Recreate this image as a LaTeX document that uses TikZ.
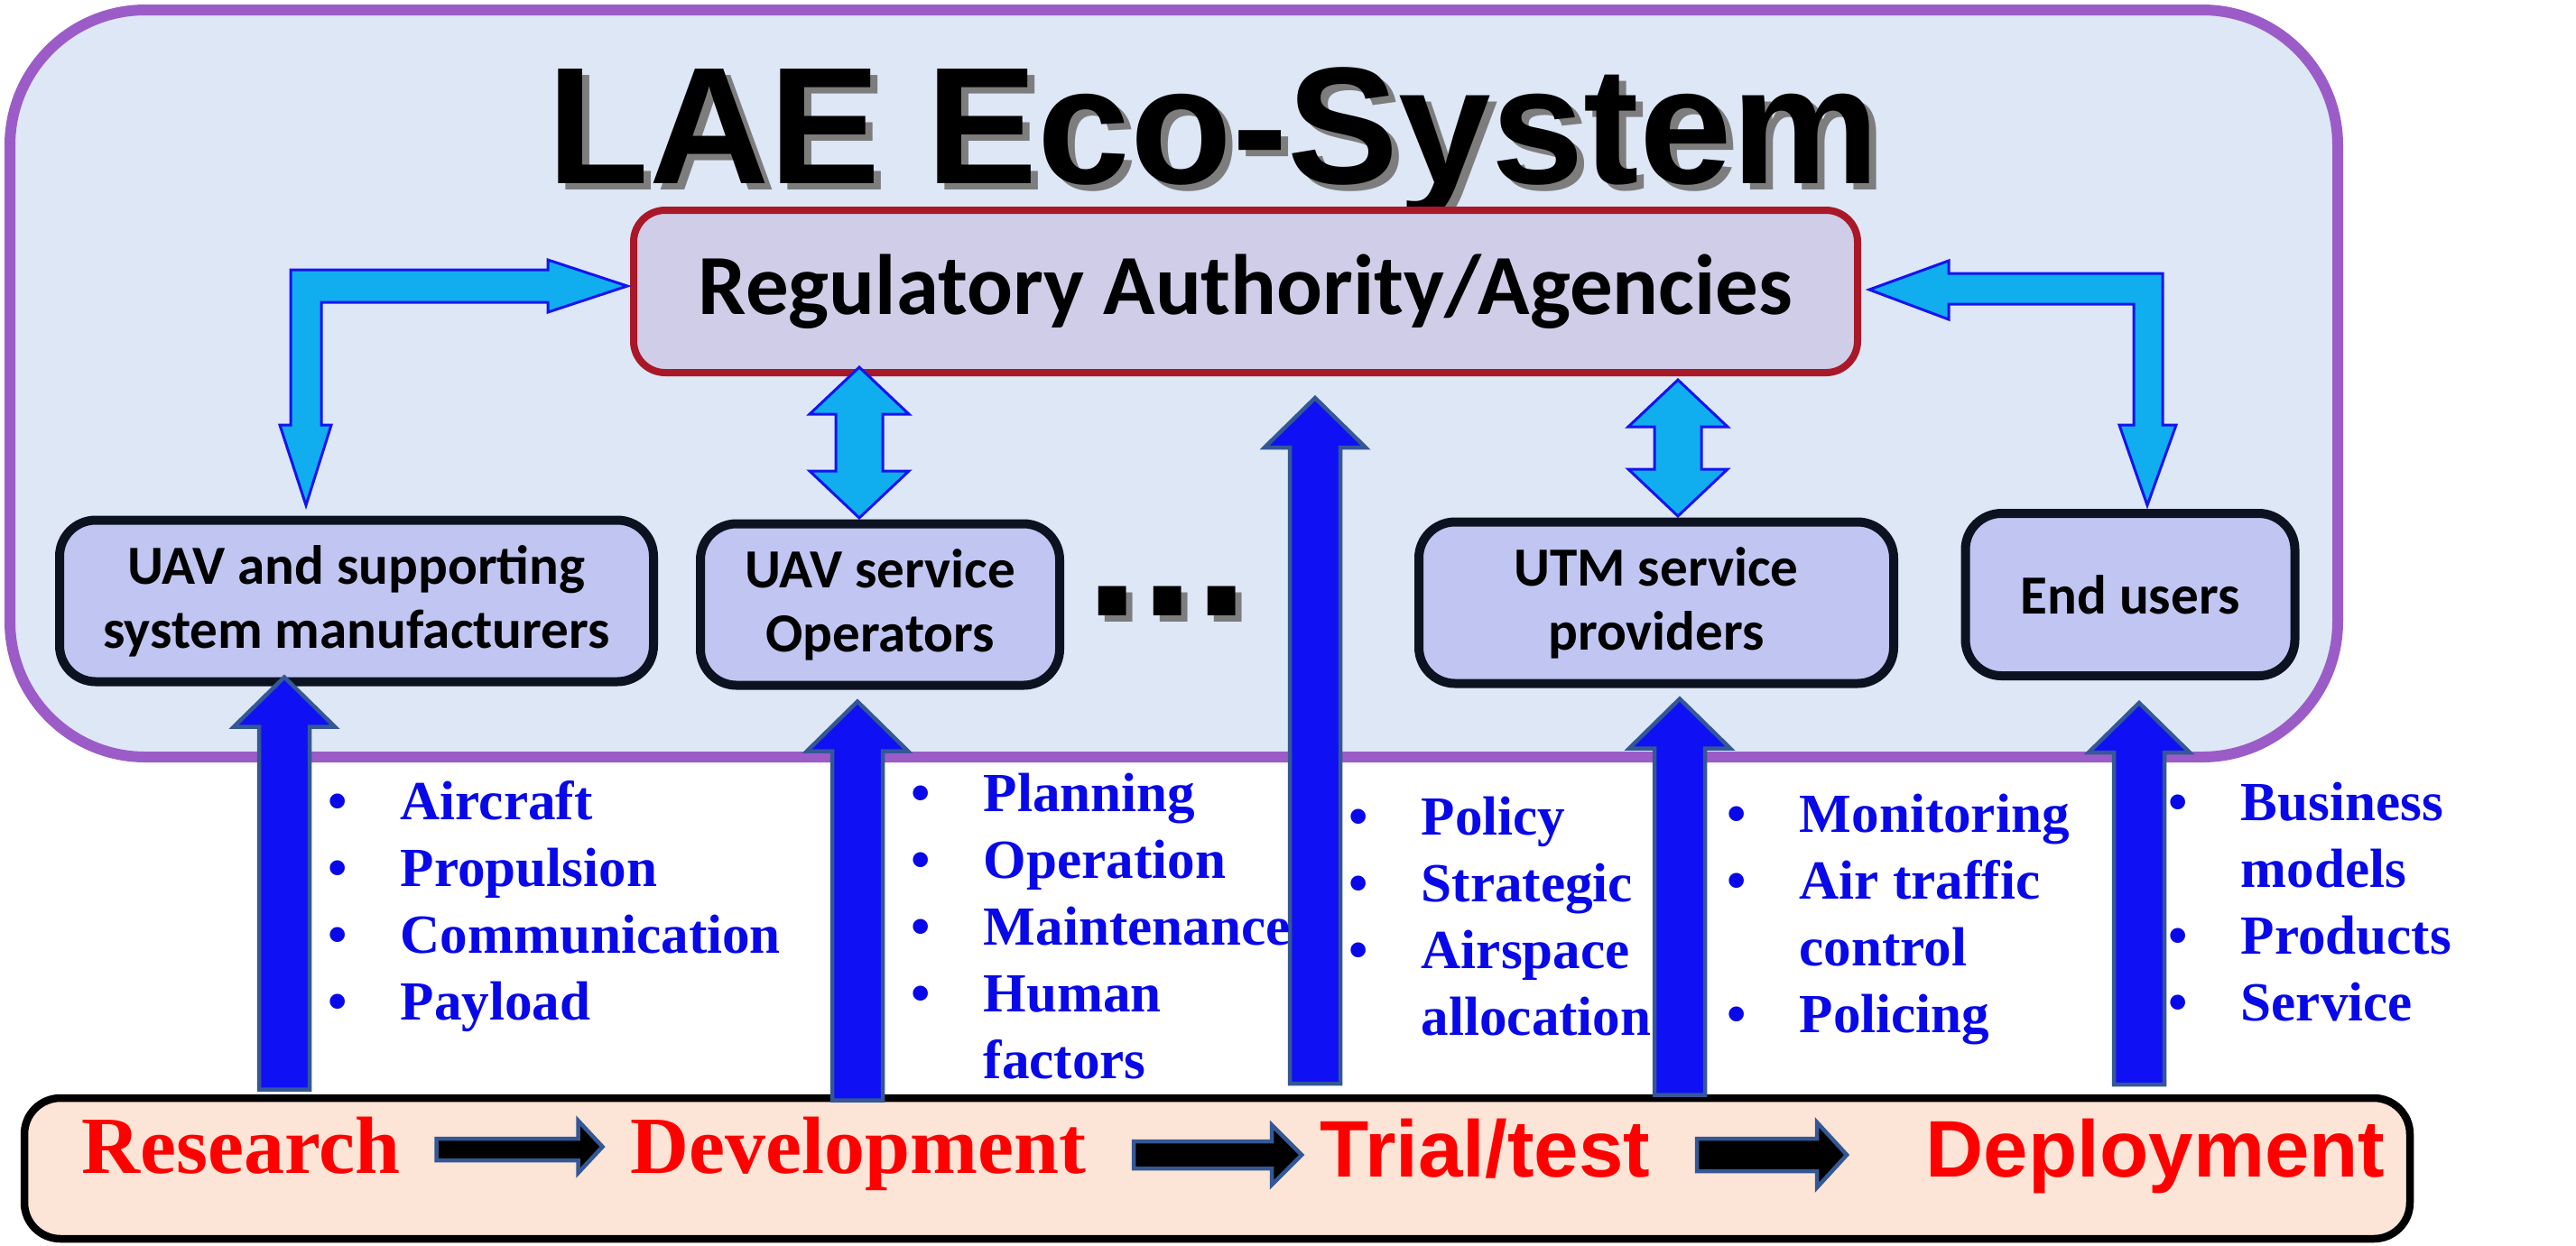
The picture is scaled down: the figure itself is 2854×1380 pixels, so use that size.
\documentclass[tikz,border=0pt]{standalone}
\usepackage{fontspec}
\setmainfont{Liberation Serif}
\newfontfamily\calibri{Carlito}
\newfontfamily\arialf{Liberation Sans}
\usepackage{tikz}
\usetikzlibrary{positioning,calc}

\definecolor{ecofill}{RGB}{222,231,245}
\definecolor{ecoline}{RGB}{155,92,200}
\definecolor{regfill}{RGB}{207,205,232}
\definecolor{regline}{RGB}{168,24,40}
\definecolor{boxfill}{RGB}{192,197,242}
\definecolor{boxline}{RGB}{12,18,32}
\definecolor{skyfill}{RGB}{16,174,239}
\definecolor{skyline}{RGB}{20,20,240}
\definecolor{upfill}{RGB}{16,16,244}
\definecolor{upline}{RGB}{52,88,150}
\definecolor{barfill}{RGB}{252,228,214}
\definecolor{itemblue}{RGB}{8,8,232}
\definecolor{shade}{RGB}{125,125,125}

\tikzset{
  ecoframe/.style={draw=ecoline, fill=ecofill, line width=1.2mm, rounded corners=15mm,
                   minimum width=257.9mm, minimum height=82.8mm},
  titletext/.style={font=\arialf\bfseries\fontsize{52.5}{60}\selectfont, anchor=base west, inner sep=0pt},
  moretext/.style={font=\arialf\bfseries\fontsize{62}{70}\selectfont, anchor=base west, inner sep=0pt},
  regbox/.style={draw=regline, fill=regfill, line width=0.8mm, rounded corners=3.5mm,
                 minimum width=135.6mm, minimum height=18mm, font=\calibri\bfseries\fontsize{27}{32}\selectfont},
  actor/.style={draw=boxline, fill=boxfill, line width=1mm, rounded corners=4mm, minimum height=17.9mm,
                align=center, inner sep=0pt, font=\calibri\bfseries\fontsize{17.4}{20.2}\selectfont},
  skyarr/.style={draw=skyline, fill=skyfill, line width=0.3mm},
  uparr/.style={draw=upline, fill=upfill, line width=0.45mm},
  stagearr/.style={draw=upline, fill=black, line width=0.45mm},
  bar/.style={draw=black, fill=barfill, line width=0.85mm, rounded corners=4mm,
              minimum width=264.3mm, minimum height=15.6mm},
  stage/.style={text=red, font=\bfseries\fontsize{25.6}{30}\selectfont, anchor=base west, inner sep=0pt},
  stagesans/.style={stage, font=\arialf\bfseries\fontsize{25.3}{30}\selectfont},
  items/.style={text=itemblue, font=\bfseries\fontsize{17.4}{21}\selectfont, align=left,
                anchor=base west, inner sep=0pt}, % base = last line
}

\newcommand{\itm}{\makebox[8mm][l]{\textbullet}}
\newcommand{\liftarrow}[2]{% tip, length
  \draw[uparr] (#1) -- ++(56,55) -- ++(-28,0) -- ++(0,#2-55) -- ++(-56,0) -- ++(0,55-#2) -- ++(-28,0) -- cycle;}
\newcommand{\twoway}[2]{% top tip, length
  \draw[skyarr] (#1) -- ++(55,52) -- ++(-29,0) -- ++(0,#2-104) -- ++(29,0) -- ++(-55,52)
    -- ++(-55,-52) -- ++(29,0) -- ++(0,104-#2) -- ++(-29,0) -- cycle;}

\begin{document}
\begin{tikzpicture}[x=0.1mm, y=-0.1mm]
  \useasboundingbox (0,0) rectangle (2854,1380);

  \node[ecoframe] (eco) at (1300.5,425) {};
  \node[titletext, text=shade] (titleshade) at (614,210) {LAE Eco-System};
  \node[titletext] (title) at (606,203) {LAE Eco-System};

  \node[regbox] (reg) at (1380,323) {Regulatory Authority/Agencies};
  \node[actor, minimum width=65.8mm] (mfr) at (395,666) {UAV and supporting\\system manufacturers};
  \node[actor, minimum width=39.8mm] (ops) at (975,670) {UAV service\\Operators};
  \node[moretext, text=shade] (moreshade) at (1209,689) {...};
  \node[moretext] (more) at (1202,682) {...};
  \node[actor, minimum width=52.6mm] (utm) at (1835,668) {UTM service\\providers};
  \node[actor, minimum width=36.5mm, minimum height=18mm] (users) at (2360,659) {End users};

  % links with the regulator
  \draw[skyarr] ($(reg.west)+(-3,-6)$) -- ++(-88,29) -- ++(0,-11) -- ++(-251,0) -- ++(0,136) -- ++(11,0)
    -- ++(-28,89) -- ++(-29,-89) -- ++(12,0) -- ++(0,-172) -- ++(285,0) -- ++(0,-11) -- cycle;
  \twoway{$(reg.south -| ops.north)+(-23,-10)$}{167}
  \twoway{$(reg.south -| utm.north)+(24,4)$}{151}
  \draw[skyarr] ($(reg.east)+(9,-2)$) -- ++(88,-32) -- ++(0,14) -- ++(237,0) -- ++(0,168) -- ++(15,0)
    -- ++(-32,89) -- ++(-31,-89) -- ++(16,0) -- ++(0,-134) -- ++(-205,0) -- ++(0,17) -- cycle;

  % stages
  \node[bar] (bar) at (1348.5,1295) {};
  \node[stage] (res) at (90,1300) {Research};
  \node[stage] (dev) at (698,1300) {Development};
  \node[stagesans] (trial) at (1462,1304) {Trial/test};
  \node[stagesans] (dep) at (2133,1304) {Deployment};
  \draw[stagearr] ($(res.base east)+(39,-38)$) -- ++(157,0) -- ++(0,-20) -- ++(27,29) -- ++(-27,29) -- ++(0,-14) -- ++(-157,0) -- cycle;
  \draw[stagearr] ($(dev.base east)+(52,-35)$) -- ++(153,0) -- ++(0,-18) -- ++(33,33) -- ++(-33,33) -- ++(0,-18) -- ++(-153,0) -- cycle;
  \draw[stagearr] ($(trial.base east)+(51,-42)$) -- ++(133,0) -- ++(0,-18) -- ++(33,36) -- ++(-33,36) -- ++(0,-18) -- ++(-133,0) -- cycle;

  % inputs from the stages
  \liftarrow{$(mfr.south)+(-80,-10)$}{457}
  \liftarrow{$(ops.south)+(-25,13)$}{442}
  \liftarrow{$(reg.south)+(77,24)$}{760}
  \liftarrow{$(utm.south)+(26,12)$}{439}
  \liftarrow{$(users.south)+(10,25)$}{423}

  \node[items] (mfritems) at (363,1130) {\itm Aircraft\\\itm Propulsion\\\itm Communication\\\itm Payload};
  \node[items] (opsitems) at (1009,1195) {\itm Planning\\\itm Operation\\\itm Maintenance\\\itm Human\\\hspace*{8mm}factors};
  \node[items] (regitems) at (1494,1147) {\itm Policy\\\itm Strategic\\\itm Airspace\\\hspace*{8mm}allocation};
  \node[items] (utmitems) at (1913,1144) {\itm Monitoring\\\itm Air traffic\\\hspace*{8mm}control\\\itm Policing};
  \node[items] (useritems) at (2402,1131) {\itm Business\\\hspace*{8mm}models\\\itm Products\\\itm Service};
\end{tikzpicture}
\end{document}
